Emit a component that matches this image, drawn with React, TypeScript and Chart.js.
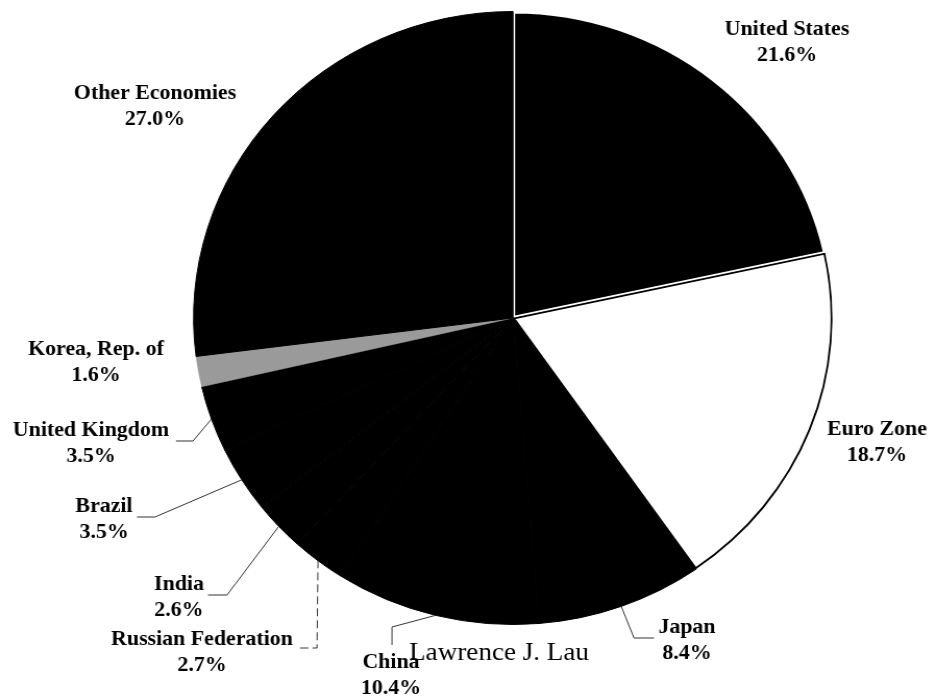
import React, { useEffect, useRef } from "react";
import { Chart, registerables } from "chart.js";

Chart.register(...registerables);

// ---- Data ----
const categories = [
  "United States",
  "Euro Zone",
  "Japan",
  "China",
  "Russian Federation",
  "India",
  "Brazil",
  "United Kingdom",
  "Korea, Rep. of",
  "Other Economies",
];
const shares = [21.6, 18.7, 8.4, 10.4, 2.7, 2.6, 3.5, 3.5, 1.6, 27.0];
const percentLabels = shares.map((v) => v.toFixed(1) + "%");
const footerText = "Lawrence J. Lau";

// ---- Styles ----
const sliceColors = [
  "#000000",
  "#ffffff",
  "#000000",
  "#000000",
  "#000000",
  "#000000",
  "#000000",
  "#000000",
  "#9a9a9a",
  "#000000",
];
const sliceBorderColors = [
  "#ffffff",
  "#000000",
  "#000000",
  "#000000",
  "#000000",
  "#000000",
  "#000000",
  "#000000",
  "#9a9a9a",
  "#000000",
];
const sliceBorderWidths = [4, 1.5, 1, 1, 1, 1, 1, 1, 0.5, 1];
const sliceBorderAlign = ["center", "inner", "center", "center", "center", "center", "center", "center", "center", "center"];

// ---- Layout (screen coordinates) ----
const X_STRETCH = 1.0423;
const CANVAS_W = 893;
const CANVAS_H = 700;
const LINE_GAP = 26;

type Placement = { x: number; y: number; elbows: number[][]; dashed?: boolean };
const labelPlacement: Placement[] = [
  { x: 787, y: 35, elbows: [] },
  { x: 877, y: 435, elbows: [] },
  { x: 687, y: 633, elbows: [[654, 638], [634, 638]] },
  { x: 391, y: 668, elbows: [[392, 645], [392, 627]] },
  { x: 202, y: 645, elbows: [[300, 648], [317, 648]], dashed: true },
  { x: 179, y: 590, elbows: [[208, 595], [227, 595]] },
  { x: 104, y: 512, elbows: [[137, 517], [155, 517]] },
  { x: 91, y: 436, elbows: [[176, 441], [193, 441]] },
  { x: 96, y: 355, elbows: [] },
  { x: 155, y: 99, elbows: [] },
];
const footerPos = { x: 499, y: 660 };

const labelPlugin = {
  id: "pieLabels",
  afterDatasetsDraw(chart: any) {
    const ctx = chart.ctx as CanvasRenderingContext2D;
    const meta = chart.getDatasetMeta(0);
    ctx.save();
    meta.data.forEach((arc: any, i: number) => {
      const p = labelPlacement[i];
      const { x, y, startAngle, endAngle, outerRadius } = arc.getProps(
        ["x", "y", "startAngle", "endAngle", "outerRadius"],
        true
      );
      const mid = (startAngle + endAngle) / 2;
      const ex = x + Math.cos(mid) * outerRadius;
      const ey = y + Math.sin(mid) * outerRadius;
      if (p.elbows.length) {
        ctx.beginPath();
        ctx.strokeStyle = "#333333";
        ctx.lineWidth = 1;
        ctx.setLineDash(p.dashed ? [8, 4] : []);
        p.elbows.forEach((pt, k) => {
          const px = pt[0] / X_STRETCH;
          if (k === 0) ctx.moveTo(px, pt[1]);
          else ctx.lineTo(px, pt[1]);
        });
        ctx.lineTo(ex, ey);
        ctx.stroke();
        ctx.setLineDash([]);
      }
      ctx.fillStyle = "#000000";
      ctx.font = "bold 21px 'Liberation Serif', 'Times New Roman', serif";
      ctx.textAlign = "center";
      ctx.textBaseline = "alphabetic";
      const lx = p.x / X_STRETCH;
      ctx.fillText(categories[i], lx, p.y);
      ctx.fillText(percentLabels[i], lx, p.y + LINE_GAP);
    });
    ctx.font = "26px 'Liberation Serif', 'Times New Roman', serif";
    ctx.textAlign = "center";
    ctx.fillStyle = "#000000";
    ctx.fillText(footerText, footerPos.x / X_STRETCH, footerPos.y);
    ctx.restore();
  },
};

export default function App() {
  const canvasRef = useRef<HTMLCanvasElement | null>(null);

  useEffect(() => {
    if (!canvasRef.current) return;
    const chart = new Chart(canvasRef.current, {
      type: "pie",
      data: {
        labels: categories,
        datasets: [
          {
            data: shares,
            backgroundColor: sliceColors,
            borderColor: sliceBorderColors,
            borderWidth: sliceBorderWidths,
            hoverBorderWidth: sliceBorderWidths,
            borderAlign: sliceBorderAlign as any,
          },
        ],
      },
      options: {
        responsive: false,
        animation: false,
        devicePixelRatio: 1,
        layout: { padding: { top: 9.5, bottom: 73.5, left: 183.7, right: 92.3 } },
        plugins: {
          legend: { display: false },
          tooltip: { enabled: false },
          title: { display: false },
        },
        events: [],
      } as any,
      plugins: [labelPlugin],
    });
    return () => chart.destroy();
  }, []);

  return (
    <div
      style={{
        position: "fixed",
        left: 0,
        top: 0,
        width: 931,
        height: 700,
        overflow: "hidden",
        background: "#ffffff",
      }}
    >
      <div
        style={{
          width: CANVAS_W,
          height: CANVAS_H,
          transform: `scaleX(${X_STRETCH})`,
          transformOrigin: "0 0",
        }}
      >
        <canvas ref={canvasRef} width={CANVAS_W} height={CANVAS_H} style={{ display: "block" }} />
      </div>
    </div>
  );
}
